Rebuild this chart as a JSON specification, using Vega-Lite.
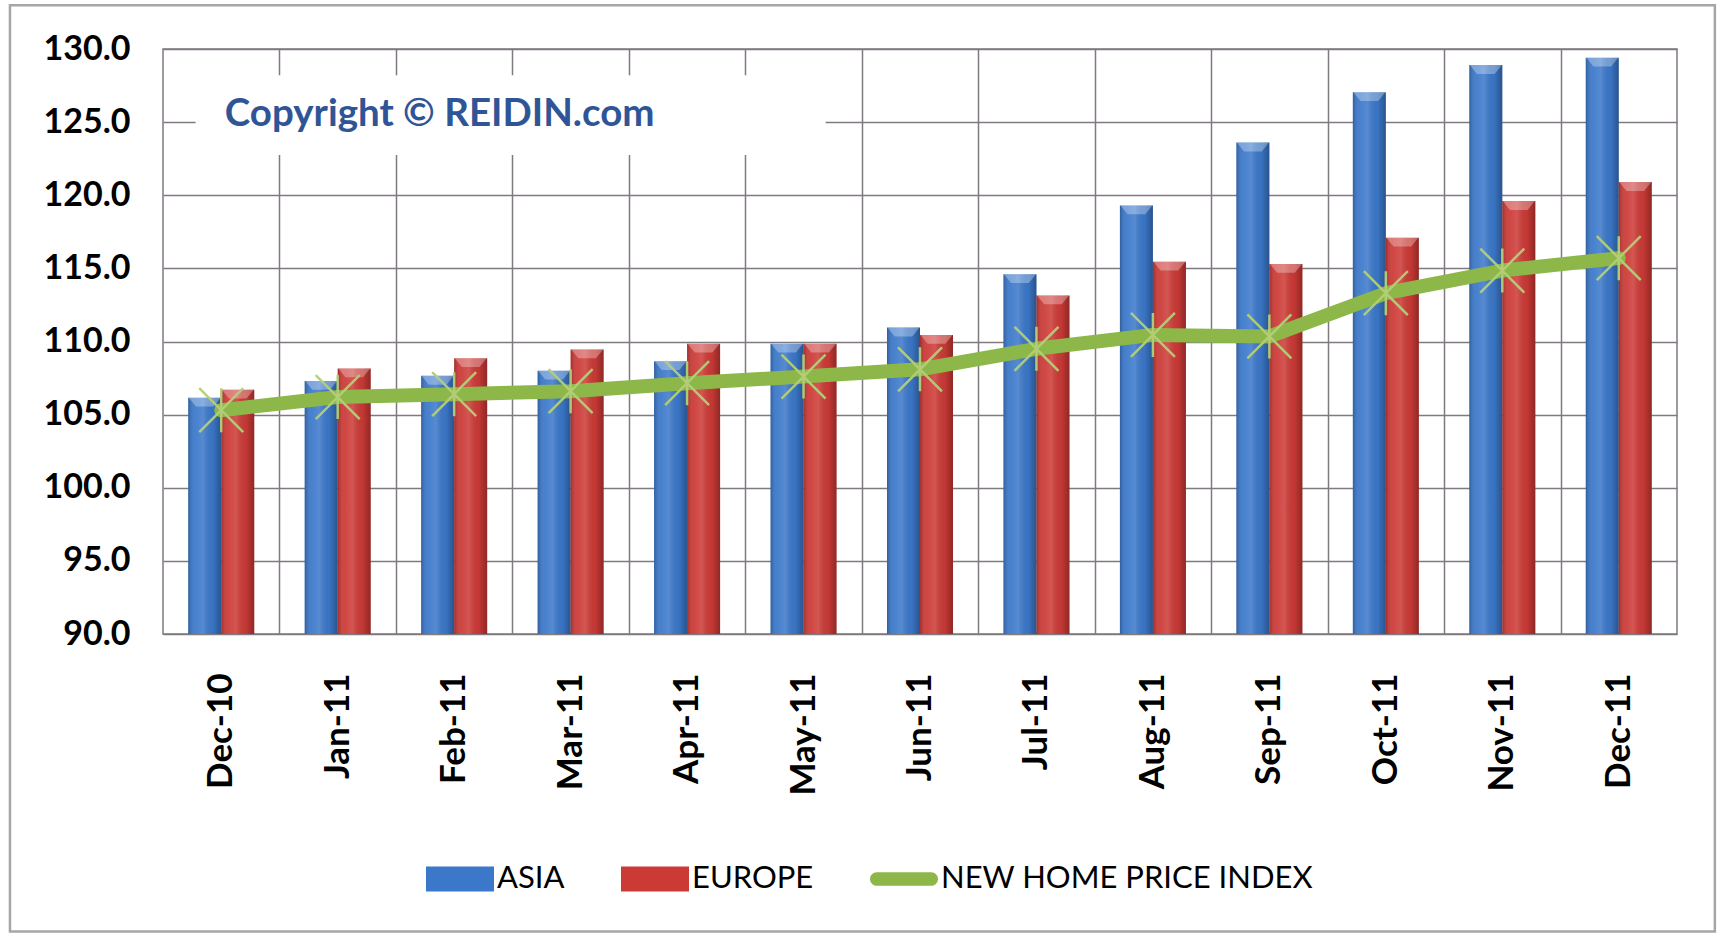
{
  "$schema": "https://vega.github.io/schema/vega-lite/v6.json",
  "width": 1514,
  "height": 585,
  "autosize": "none",
  "padding": {"left": 163, "top": 49, "right": 44, "bottom": 307},
  "background": "white",
  "config": {
    "font": "Lato",
    "view": {"stroke": "#7f7a80", "strokeWidth": 1.5},
    "legend": {
      "orient": "none",
      "legendX": 263,
      "legendY": 796,
      "direction": "horizontal",
      "title": null,
      "symbolSize": 4624,
      "symbolOffset": 0,
      "labelFont": "Lato",
      "labelFontSize": 31,
      "labelColor": "#000000",
      "labelOffset": 3,
      "columnPadding": 56,
      "padding": 0,
      "labelLimit": 600
    }
  },
  "datasets": {
    "series": [
      {"month": "Dec-10", "series": "ASIA", "value": 106.15},
      {"month": "Jan-11", "series": "ASIA", "value": 107.3},
      {"month": "Feb-11", "series": "ASIA", "value": 107.65},
      {"month": "Mar-11", "series": "ASIA", "value": 108.0},
      {"month": "Apr-11", "series": "ASIA", "value": 108.65},
      {"month": "May-11", "series": "ASIA", "value": 109.85},
      {"month": "Jun-11", "series": "ASIA", "value": 110.95},
      {"month": "Jul-11", "series": "ASIA", "value": 114.6},
      {"month": "Aug-11", "series": "ASIA", "value": 119.3},
      {"month": "Sep-11", "series": "ASIA", "value": 123.6},
      {"month": "Oct-11", "series": "ASIA", "value": 127.05},
      {"month": "Nov-11", "series": "ASIA", "value": 128.9},
      {"month": "Dec-11", "series": "ASIA", "value": 129.4},
      {"month": "Dec-10", "series": "EUROPE", "value": 106.7},
      {"month": "Jan-11", "series": "EUROPE", "value": 108.15},
      {"month": "Feb-11", "series": "EUROPE", "value": 108.85},
      {"month": "Mar-11", "series": "EUROPE", "value": 109.45},
      {"month": "Apr-11", "series": "EUROPE", "value": 109.85},
      {"month": "May-11", "series": "EUROPE", "value": 109.85},
      {"month": "Jun-11", "series": "EUROPE", "value": 110.45},
      {"month": "Jul-11", "series": "EUROPE", "value": 113.15},
      {"month": "Aug-11", "series": "EUROPE", "value": 115.45},
      {"month": "Sep-11", "series": "EUROPE", "value": 115.3},
      {"month": "Oct-11", "series": "EUROPE", "value": 117.1},
      {"month": "Nov-11", "series": "EUROPE", "value": 119.6},
      {"month": "Dec-11", "series": "EUROPE", "value": 120.9},
      {"month": "Dec-10", "series": "NEW HOME PRICE INDEX", "value": 105.3},
      {"month": "Jan-11", "series": "NEW HOME PRICE INDEX", "value": 106.2},
      {"month": "Feb-11", "series": "NEW HOME PRICE INDEX", "value": 106.4},
      {"month": "Mar-11", "series": "NEW HOME PRICE INDEX", "value": 106.6},
      {"month": "Apr-11", "series": "NEW HOME PRICE INDEX", "value": 107.15},
      {"month": "May-11", "series": "NEW HOME PRICE INDEX", "value": 107.6},
      {"month": "Jun-11", "series": "NEW HOME PRICE INDEX", "value": 108.1},
      {"month": "Jul-11", "series": "NEW HOME PRICE INDEX", "value": 109.5},
      {"month": "Aug-11", "series": "NEW HOME PRICE INDEX", "value": 110.45},
      {"month": "Sep-11", "series": "NEW HOME PRICE INDEX", "value": 110.35},
      {"month": "Oct-11", "series": "NEW HOME PRICE INDEX", "value": 113.3},
      {"month": "Nov-11", "series": "NEW HOME PRICE INDEX", "value": 114.85},
      {"month": "Dec-11", "series": "NEW HOME PRICE INDEX", "value": 115.7}
    ]
  },
  "data": {"name": "series"},
  "layer": [
    {
      "data": {"values": [{}]},
      "layer": [
        {
          "mark": {"type": "rect", "fill": "transparent", "stroke": "#a6a6a6", "strokeWidth": 2.5},
          "encoding": {
            "x": {"datum": -1.314, "type": "quantitative",
                  "scale": {"domain": [0, 13], "nice": false, "zero": false},
                  "axis": {"values": [1, 2, 3, 4, 5, 6, 7, 8, 9, 10, 11, 12], "orient": "top", "grid": true, "gridColor": "#7f7a80", "gridWidth": 1.5, "labels": false, "ticks": false, "domain": false, "title": null}},
            "x2": {"datum": 13.325},
            "y": {"datum": 133.0, "type": "quantitative", "scale": {"domain": [90, 130], "nice": false, "zero": false}},
            "y2": {"datum": 69.65}
          }
        },
        {
          "mark": {"type": "rect", "fill": "white", "stroke": null},
          "encoding": {
            "x": {"datum": 0.28, "type": "quantitative"},
            "x2": {"datum": 5.69},
            "y": {"datum": 128.2, "type": "quantitative"},
            "y2": {"datum": 122.75}
          }
        },
        {
          "mark": {"type": "text", "text": "Copyright © REIDIN.com", "align": "left", "baseline": "middle", "font": "Lato", "fontSize": 38.5, "fontWeight": "bold", "color": "#2f5597"},
          "encoding": {
            "x": {"datum": 0.53, "type": "quantitative"},
            "y": {"datum": 125.55, "type": "quantitative"}
          }
        }
      ]
    },
    {
      "layer": [
        {
          "transform": [{"filter": "datum.series !== 'NEW HOME PRICE INDEX'"}],
          "mark": {"type": "bar"},
          "encoding": {
            "x": {"field": "month", "type": "nominal", "sort": null,
                  "scale": {"paddingInner": 0, "paddingOuter": 0},
                  "axis": {"title": null, "grid": false, "ticks": false, "domain": false, "labelAngle": -90, "labelPadding": 39, "labelFont": "Lato", "labelFontSize": 35, "labelFontWeight": "bold", "labelColor": "#000000"}},
            "xOffset": {"field": "series", "type": "nominal", "scale": {"paddingInner": 0, "paddingOuter": 0.764}},
            "y": {"field": "value", "type": "quantitative",
                  "scale": {"domain": [90, 130], "nice": false, "zero": false},
                  "axis": {"title": null, "values": [90, 95, 100, 105, 110, 115, 120, 125, 130], "format": ".1f", "grid": true, "gridColor": "#7f7a80", "gridWidth": 1.5, "ticks": false, "domain": false, "labelPadding": 33, "labelFont": "Lato", "labelFontSize": 34, "labelFontWeight": "bold", "labelColor": "#000000"}},
            "y2": {"datum": 90},
            "color": {"field": "series", "type": "nominal",
                      "scale": {"domain": ["ASIA", "EUROPE", "NEW HOME PRICE INDEX"], "range": ["#3b78ca", "#cc3a36", "#8db849"]},
                      "legend": {
                        "encode": {
                          "symbols": {
                            "update": {
                              "shape": {"signal": "datum.value === 'NEW HOME PRICE INDEX' ? 'M-0.8,-0.2H0.8A0.2,0.2 0 0 1 0.8,0.2H-0.8A0.2,0.2 0 0 1 -0.8,-0.2Z' : 'M-1,-0.37H1V0.37H-1Z'"},
                              "fill": {"signal": "scale('color', datum.value)"},
                              "stroke": {"value": "transparent"},
                              "strokeWidth": {"value": 0},
                              "opacity": {"value": 1}
                            }
                          }
                        }
                      }}
          }
        },
        {
          "transform": [{"filter": "datum.series !== 'NEW HOME PRICE INDEX'"}],
          "mark": {"type": "bar", "fill": {"gradient": "linear", "x1": 0, "x2": 1, "y1": 0, "y2": 0,
                    "stops": [
                      {"offset": 0, "color": "rgba(0,0,0,0.22)"},
                      {"offset": 0.2, "color": "rgba(255,255,255,0.06)"},
                      {"offset": 0.45, "color": "rgba(255,255,255,0.14)"},
                      {"offset": 0.75, "color": "rgba(0,0,0,0.04)"},
                      {"offset": 1, "color": "rgba(0,0,0,0.3)"}
                    ]}},
          "encoding": {
            "x": {"field": "month", "type": "nominal", "sort": null},
            "xOffset": {"field": "series", "type": "nominal"},
            "y": {"field": "value", "type": "quantitative"},
            "y2": {"datum": 90}
          }
        },
        {
          "transform": [{"filter": "datum.series !== 'NEW HOME PRICE INDEX'"}],
          "mark": {"type": "point", "shape": "M-1,0L1,0L0.55,0.55L-0.55,0.55Z", "size": 1024, "filled": true, "fill": "white", "fillOpacity": 0.3, "strokeWidth": 0},
          "encoding": {
            "x": {"field": "month", "type": "nominal", "sort": null},
            "xOffset": {"field": "series", "type": "nominal"},
            "y": {"field": "value", "type": "quantitative"}
          }
        },
        {
          "transform": [{"filter": "datum.series === 'NEW HOME PRICE INDEX'"}],
          "mark": {"type": "line", "strokeWidth": 14, "strokeJoin": "round", "strokeCap": "round"},
          "encoding": {
            "x": {"field": "month", "type": "nominal", "sort": null},
            "y": {"field": "value", "type": "quantitative"},
            "color": {"field": "series", "type": "nominal"}
          }
        },
        {
          "transform": [{"filter": "datum.series === 'NEW HOME PRICE INDEX'"}],
          "mark": {"type": "point", "shape": "M-1,-1L1,1M1,-1L-1,1M0,-1L0,1", "size": 1936, "filled": false, "stroke": "#b4cf78", "strokeWidth": 2.5, "opacity": 0.95},
          "encoding": {
            "x": {"field": "month", "type": "nominal", "sort": null},
            "y": {"field": "value", "type": "quantitative"}
          }
        }
      ]
    }
  ],
  "resolve": {"scale": {"x": "independent"}}
}
